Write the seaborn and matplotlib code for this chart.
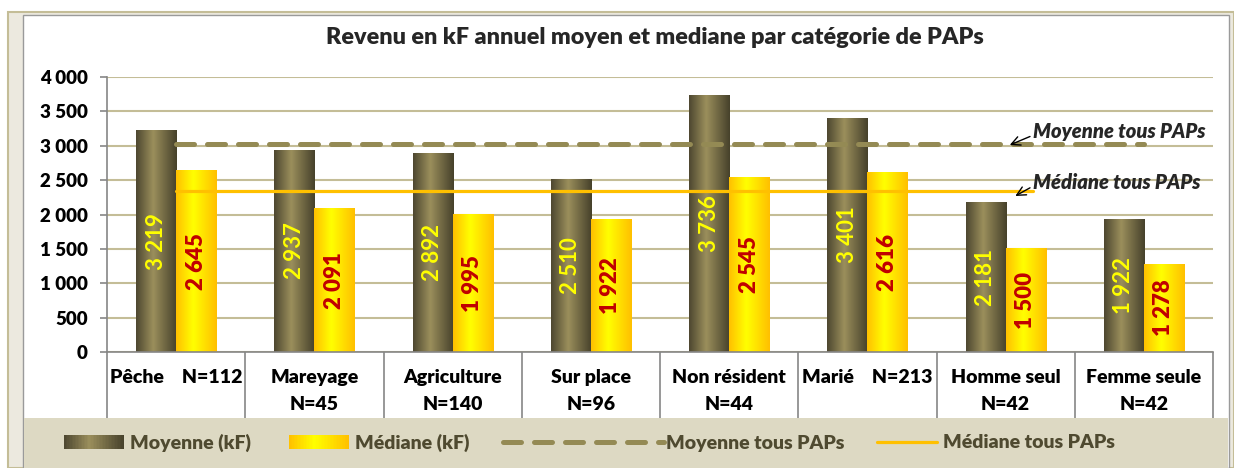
import numpy as np
import pandas as pd
import matplotlib
matplotlib.use("Agg")
import matplotlib.pyplot as plt
from matplotlib.patches import Rectangle
from matplotlib.lines import Line2D
from matplotlib.colors import LinearSegmentedColormap
from matplotlib.legend_handler import HandlerBase
from matplotlib.ticker import FuncFormatter
import seaborn as sns

# Data
categories = ["Pêche    N=112", "Mareyage\nN=45", "Agriculture\nN=140", "Sur place\nN=96",
              "Non résident\nN=44", "Marié    N=213", "Homme seul\nN=42", "Femme seule\nN=42"]
moyenne = [3219, 2937, 2892, 2510, 3736, 3401, 2181, 1922]
mediane = [2645, 2091, 1995, 1922, 2545, 2616, 1500, 1278]
moyenne_tous = 3025
mediane_tous = 2340
yticks = [0, 500, 1000, 1500, 2000, 2500, 3000, 3500, 4000]
series = ["Moyenne (kF)", "Médiane (kF)"]

df = pd.DataFrame({
    "categorie": categories * 2,
    "valeur": moyenne + mediane,
    "serie": [series[0]] * len(categories) + [series[1]] * len(categories),
})

sns.set_theme(style="white")
plt.rcParams["font.family"] = ["Lato", "DejaVu Sans"]
BOLD = "heavy"

W, H = 1234, 468
fig = plt.figure(figsize=(W / 100, H / 100), dpi=100)


def fx(px):
    return px / W


def fy(py):
    return 1 - py / H


# frame around the chart
fig.patches.append(Rectangle((fx(8), 0), 1 - fx(8), fy(12), transform=fig.transFigure,
                             facecolor="#ece9df", edgecolor="#c4bd97", lw=1.5, zorder=-3))
fig.patches.append(Rectangle((fx(23), 0), fx(1229) - fx(23), fy(15), transform=fig.transFigure,
                             facecolor="white", edgecolor="#9a9a9a", lw=1, zorder=-2))
fig.patches.append(Rectangle((fx(24), 0), fx(1228) - fx(24), fy(418), transform=fig.transFigure,
                             facecolor="#ddd9c3", edgecolor="none", zorder=-1))

ax = fig.add_axes([fx(107), fy(352), fx(1213) - fx(107), fy(77) - fy(352)])
ax.set_facecolor("none")

cmap_dark = LinearSegmentedColormap.from_list("dark", [(0, "#4d4730"), (0.42, "#9b8f5c"), (1, "#46412b")])
cmap_yel = LinearSegmentedColormap.from_list("yel", [(0, "#ffc000"), (0.42, "#ffff00"), (1, "#ffbf00")])

sns.barplot(data=df, x="categorie", y="valeur", hue="serie", order=categories,
            palette={series[0]: "#7d7249", series[1]: "#ffe000"}, width=0.58, gap=0,
            saturation=1, legend=False, ax=ax)

# gradient fill of every bar
grad = np.linspace(0, 1, 128).reshape(1, -1)
for cont, cmap in zip(ax.containers, [cmap_dark, cmap_yel]):
    for p in cont.patches:
        x0, y0, w, h = p.get_x(), p.get_y(), p.get_width(), p.get_height()
        p.set_edgecolor("none")
        ax.imshow(grad, cmap=cmap, extent=[x0, x0 + w, y0, y0 + h], aspect="auto",
                  interpolation="bicubic", zorder=2)

fmt = lambda v: f"{int(v):,}".replace(",", " ")
ax.bar_label(ax.containers[0], labels=[fmt(v) for v in moyenne], label_type="center",
             rotation=90, color="#ffff00", fontsize=16, fontweight="bold", zorder=5)
ax.bar_label(ax.containers[1], labels=[fmt(v) for v in mediane], label_type="center",
             rotation=90, color="#c00000", fontsize=16, fontweight=BOLD, zorder=5)

# overall mean / median lines
ax.plot([0, len(categories) - 1], [moyenne_tous, moyenne_tous], color="#948a54", lw=3.6,
        dashes=(3.6, 2.6), dash_capstyle="round", zorder=4)
ax.plot([0, len(categories) - 1.8], [mediane_tous, mediane_tous], color="#ffc000", lw=2.3, zorder=4)

arrow = dict(arrowstyle="->", color="black", lw=1, relpos=(0, 0.3),
             shrinkA=0, shrinkB=0, mutation_scale=16)
ax.annotate("Moyenne tous PAPs", xy=(6.03, 3011), xytext=(6.2, 3210), textcoords="data",
            ha="left", va="center", fontsize=14.5, fontweight=BOLD, style="italic",
            arrowprops=arrow, zorder=6)
ax.annotate("Médiane tous PAPs", xy=(6.07, 2269), xytext=(6.2, 2470), textcoords="data",
            ha="left", va="center", fontsize=14.5, fontweight=BOLD, style="italic",
            arrowprops=arrow, zorder=6)

ax.set_xlim(-0.5, len(categories) - 0.5)
ax.set_ylim(0, 4000)
ax.set_yticks(yticks)
ax.yaxis.set_major_formatter(FuncFormatter(lambda v, _: fmt(v)))
ax.yaxis.grid(True, color="#c4bd97", lw=1.5)
ax.set_axisbelow(True)
ax.set_xlabel("")
ax.set_ylabel("")
for s in ["top", "right"]:
    ax.spines[s].set_visible(False)
for s in ["left", "bottom"]:
    ax.spines[s].set_color("#868686")
    ax.spines[s].set_linewidth(1.2)

ax.tick_params(axis="y", left=True, length=5, width=1.2, color="#868686", labelsize=13.5, pad=9)
ax.set_xticks(np.arange(-0.5, len(categories)), minor=True)
ax.tick_params(axis="x", which="major", length=0, labelsize=14, pad=12)
ax.tick_params(axis="x", which="minor", bottom=True, length=47.5, width=1.2, color="#868686")
for lab in ax.get_xticklabels() + ax.get_yticklabels():
    lab.set_fontweight(BOLD)
    lab.set_color("black")
for lab in ax.get_xticklabels():
    lab.set_multialignment("center")
    lab.set_linespacing(1.75)

fig.text(fx(655), fy(38), "Revenu en kF annuel moyen et mediane par catégorie de PAPs",
         ha="center", va="center", fontsize=16.8, fontweight=BOLD)


class GradientHandler(HandlerBase):
    def __init__(self, cmap, n=40):
        super().__init__()
        self.cmap = cmap
        self.n = n

    def create_artists(self, legend, orig_handle, xdescent, ydescent, width, height, fontsize, trans):
        arts = []
        for i in range(self.n):
            arts.append(Rectangle((-xdescent + i * width / self.n, -ydescent), width / self.n * 1.05, height,
                                  facecolor=self.cmap((i + 0.5) / self.n), edgecolor="none", transform=trans))
        return arts


h_moy = Rectangle((0, 0), 1, 1)
h_med = Rectangle((0, 0), 1, 1)
h_moy_tous = Line2D([], [], color="#948a54", lw=3.6, dashes=(3.6, 2.6), dash_capstyle="round")
h_med_tous = Line2D([], [], color="#ffc000", lw=2.3)

leg_y = fy(443)
entries = [
    (h_moy, "Moyenne (kF)", 64, 3.1, 0.3, {h_moy: GradientHandler(cmap_dark)}),
    (h_med, "Médiane (kF)", 289, 3.1, 0.3, {h_med: GradientHandler(cmap_yel)}),
    (h_moy_tous, "Moyenne tous PAPs", 503, 8.3, 0.1, None),
    (h_med_tous, "Médiane tous PAPs", 877, 3.1, 0.3, None),
]
for h, lab, px, hl, tp, hm in entries:
    fig.legend(handles=[h], labels=[lab], loc="center left", bbox_to_anchor=(fx(px), leg_y),
               frameon=False, borderpad=0, borderaxespad=0, handlelength=hl, handleheight=0.75,
               handletextpad=tp, prop={"weight": BOLD, "size": 14}, labelcolor="#4f4a30",
               handler_map=hm)

fig.savefig("out.png", dpi=100)
